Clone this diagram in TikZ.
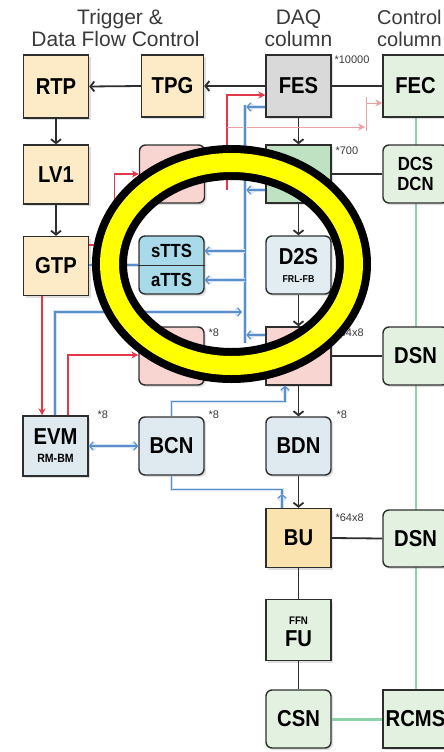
\documentclass[tikz,border=0pt]{standalone}
\usepackage{fontspec}
\setmainfont{Liberation Sans}
\newfontfamily\boxfont{Liberation Sans}[FakeStretch=0.88]
\usepackage{tikz}
\usetikzlibrary{arrows.meta, shadows, positioning, calc}
\pgfdeclarelayer{background}
\pgfsetlayers{background,main}
\definecolor{edgecolor}{HTML}{2E2E2E}
\definecolor{headcolor}{HTML}{3A3A3A}
\definecolor{trigcolor}{HTML}{FCEBC6}
\definecolor{bucolor}{HTML}{FBE3B0}
\definecolor{fescolor}{HTML}{D9D9D9}
\definecolor{ctrlcolor}{HTML}{E3F2E0}
\definecolor{rucolor}{HTML}{BFE2C3}
\definecolor{evbcolor}{HTML}{F8D5D0}
\definecolor{ttscolor}{HTML}{A8DAEA}
\definecolor{d2scolor}{HTML}{E1EDF0}
\definecolor{bcncolor}{HTML}{DEE9F0}
\definecolor{redcolor}{HTML}{E5374A}
\definecolor{faintred}{HTML}{F0A0A2}
\definecolor{bluecolor}{HTML}{5B8FCB}
\definecolor{greencolor}{HTML}{8DD2A8}
\definecolor{markyellow}{HTML}{FFFF00}

\begin{document}
\begin{tikzpicture}[x=1pt, y=-1pt,
  box/.style={draw=edgecolor, line width=1.4pt, minimum width=65pt,
    minimum height=59pt, inner sep=0pt, align=center,
    font=\boxfont\bfseries\fontsize{23}{24}\selectfont,
    drop shadow={opacity=0.25, shadow xshift=2pt, shadow yshift=-2pt}},
  rbox/.style={box, rounded corners=6pt},
  note/.style={font=\fontsize{11}{12}\selectfont, color=headcolor, anchor=west},
  head/.style={font=\fontsize{21}{22}\selectfont, color=headcolor, anchor=base},
  blk/.style={draw=edgecolor, line width=1.8pt},
  arr/.style={-{Straight Barb[length=4pt, width=10pt]}},
  redln/.style={draw=redcolor, line width=1.2pt, -{Stealth[length=7pt, width=7pt]}},
  blueln/.style={draw=bluecolor, line width=1.2pt,
    preaction={draw=bluecolor!25, line width=3.6pt}},
  btip/.style={-{Straight Barb[length=3.5pt, width=8pt]}},
  grnln/.style={draw=greencolor, line width=2pt}]

  \clip (0,0) rectangle (444,752);

  % column headers
  \node[head] (h1) at (120,25) {Trigger \&};
  \node[head] (h2) at (115.5,47) {Data Flow Control};
  \node[head] (h3) at (298.5,25) {DAQ};
  \node[head] (h4) at (298.5,47) {column};
  \node[head, anchor=base west, inner sep=0pt, font=\fontsize{20}{21}\selectfont] (h5) at (377,25) {Control};
  \node[head, anchor=base west, inner sep=0pt, font=\fontsize{20}{21}\selectfont] (h6) at (377,47) {column};

  % boxes
  \node[box, fill=trigcolor, minimum height=63pt] (RTP) at (56,86.5) {RTP};
  \node[box, fill=trigcolor, minimum width=62pt, minimum height=62pt] (TPG) at (172.5,86) {TPG};
  \node[box, fill=fescolor, minimum height=62pt] (FES) at (298.5,86) {FES};
  \node[box, fill=ctrlcolor, minimum height=62pt] (FEC) at (415.5,86) {FEC};

  \node[box, fill=trigcolor] (LV1) at (56,174.5) {LV1};
  \node[rbox, fill=evbcolor, minimum height=58pt] (EVB) at (172,174) {};
  \node[box, fill=rucolor, minimum height=58pt] (RU) at (298.5,174) {};
  \node[rbox, fill=ctrlcolor, minimum height=58pt,
    font=\boxfont\bfseries\fontsize{19}{20}\selectfont] (DCS) at (415.5,174) {DCS\\DCN};

  \node[box, fill=trigcolor] (GTP) at (56,266) {GTP};
  \node[rbox, fill=ttscolor, minimum height=58pt] (tts) at (171.5,265) {};
  \draw[draw=edgecolor, line width=1pt] (tts.west) -- (tts.east);
  \node[font=\boxfont\bfseries\fontsize{19}{20}\selectfont] (stts) at (171.5,251) {sTTS};
  \node[font=\boxfont\bfseries\fontsize{19}{20}\selectfont] (atts) at (171.5,280) {aTTS};
  \node[rbox, fill=d2scolor, minimum height=58pt] (D2S) at (298.5,265)
    {D2S\\[-6pt]{\fontsize{10}{10}\selectfont FRL-FB}};

  \node[rbox, fill=evbcolor, minimum height=58pt] (EVB2) at (171.5,356) {};
  \node[box, fill=evbcolor, minimum height=58pt] (RU2) at (298.5,356) {};
  \node[rbox, fill=ctrlcolor, minimum height=58pt] (DSN1) at (415.5,356) {DSN};

  \node[box, fill=bcncolor, minimum height=60pt] (EVM) at (55.5,446)
    {EVM\\[-6pt]{\fontsize{12}{12}\selectfont RM-BM}};
  \node[rbox, fill=bcncolor, minimum height=58pt] (BCN) at (171.5,446) {BCN};
  \node[rbox, fill=bcncolor, minimum height=58pt] (BDN) at (298.5,446) {BDN};

  \node[box, fill=bucolor] (BU) at (298.5,538) {BU};
  \node[rbox, fill=ctrlcolor, minimum height=57pt] (DSN2) at (415.5,538.5) {DSN};

  \node[box, fill=ctrlcolor, minimum height=61pt] (FU) at (298.5,630) {};
  \node[font=\boxfont\bfseries\fontsize{11}{11}\selectfont] (ffn) at (298.5,621) {FFN};
  \node[font=\boxfont\bfseries\fontsize{23}{24}\selectfont] (fu) at (298.5,638.5) {FU};
  \node[rbox, fill=ctrlcolor, minimum height=58pt] (CSN) at (298.5,719) {CSN};
  \node[box, fill=ctrlcolor, minimum height=58pt] (RCMS) at (415.5,719) {RCMS};

  % multiplicities
  \node[note] (n1) at (331,60) {*10000};
  \node[note] (n2) at (332,151) {*700};
  \node[note] (n3) at (205,333) {*8};
  \node[note] (n4) at (332,333) {*64x8};
  \node[note] (n5) at (94,415) {*8};
  \node[note] (n6) at (205,415) {*8};
  \node[note] (n7) at (333,415) {*8};
  \node[note] (n8) at (332,518) {*64x8};

  % control column
  \begin{pgfonlayer}{background}
    \draw[grnln] (FEC.south) -- (RCMS.north);
  \end{pgfonlayer}
  \draw[grnln, line width=3pt] (CSN.east) -- (RCMS.west);

  % data flow
  \draw[blk, arr] (FES.west) -- (TPG.east);
  \draw[blk, arr] (TPG.west) -- (RTP.east);
  \draw[blk] (FES.east) -- (FEC.west);
  \draw[blk, arr] (RTP.south) -- (LV1.north);
  \draw[blk, arr] (LV1.south) -- (GTP.north);
  \draw[blk, arr] (FES.south) -- (RU.north);
  \draw[blk, arr] (RU.south) -- (D2S.north);
  \draw[blk, arr] (D2S.south) -- (RU2.north);
  \draw[blk, arr] (RU2.south) -- (BDN.north);
  \draw[blk, arr] (BDN.south) -- (BU.north);
  \draw[blk] (BU.south) -- (FU.north);
  \draw[blk] (FU.south) -- (CSN.north);
  \draw[blk] (RU.east) -- (DCS.west);
  \draw[blk] (RU2.east) -- (DSN1.west);
  \draw[blk] (BU.east) -- (DSN2.west);

  % trigger lines
  \coordinate (rtail) at (227,190);
  \coordinate (fjoin) at (365,127);
  \draw[redln] (rtail) |- ($(FES.west)+(0,9)$);
  \draw[redln, draw=faintred, line width=0.9pt] (rtail |- fjoin) -- (fjoin);
  \draw[draw=faintred, line width=0.9pt] ($(fjoin)+(1,4)$) -- ($(fjoin)+(1,-30)$);
  \draw[redln, draw=faintred, line width=0.9pt] ($(fjoin)+(1,-24)$) -- ($(FEC.west)+(0,17)$);
  \draw[redln] ($(GTP.east)+(0,-21)$) -- ++(25,0) |- (EVB.west);
  \draw[redln] ($(GTP.south)+(-14,0)$) -- ($(EVM.north)+(-13.5,0)$);
  \draw[redln] ($(EVM.north)+(12.5,0)$) |- ($(EVB2.west)+(0,-1)$);
  \draw[redln] ($(EVB2.east)+(0,-6)$) -- ($(RU2.west)+(0,-6)$);

  % throttling bus
  \coordinate (bustop) at (245,105);
  \coordinate (busbot) at (245,343);
  \draw[blueln] (bustop) -- (busbot);
  \draw[blueln, btip] ($(FES.west)+(0,21)$) -- ++(-19,0);
  \draw[blueln, btip] ($(RU.west)+(0,16)$) -- ++(-19,0);
  \draw[blueln, btip] ($(RU2.west)+(0,-21)$) -- ++(-19,0);
  \draw[blueln, btip] (stts -| bustop) -- (stts -| tts.east);
  \draw[blueln, btip] (atts -| bustop) -- (atts -| tts.east);
  \draw[blueln] (GTP.east |- tts.west) -- (tts.west);
  \draw[blueln, btip] ($(EVM.north)+(-0.5,0)$) |- ($(busbot)+(-3,-31)$);
  \draw[blueln, btip] (BCN.north) -- ++(0,-15) -| ($(RU2.south)+(-13.5,0)$);
  \draw[blueln] ($(BU.north)+(-16.5,-14)$) -- ++(0,-4.5) -| (BCN.south);
  \draw[blueln, btip] ($(BU.north)+(-16.5,0)$) -- ++(0,-14);
  \draw[blueln, {Straight Barb[length=3.5pt, width=8pt]}-{Straight Barb[length=3.5pt, width=8pt]}]
    (EVM.east) -- (BCN.west);

  % highlight ring
  \draw[black, line width=35pt] (231.5,264) ellipse [x radius=122pt, y radius=101.5pt];
  \draw[markyellow, line width=19pt] (231.5,264) ellipse [x radius=122pt, y radius=101.5pt];
\end{tikzpicture}
\end{document}
